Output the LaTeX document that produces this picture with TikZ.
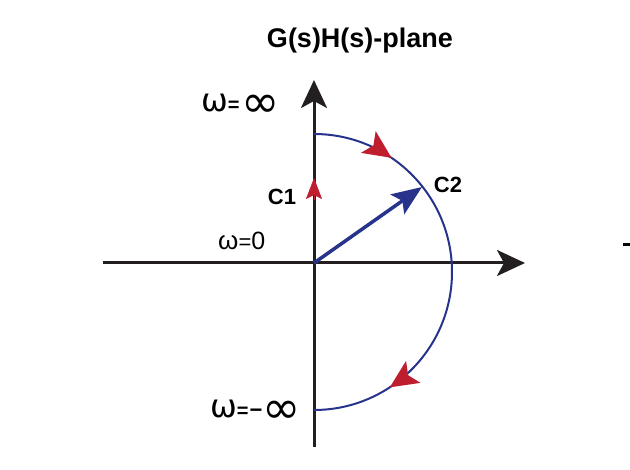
\documentclass[tikz,border=0pt]{standalone}
\usepackage{fontspec}
\setmainfont{Liberation Sans}
\newfontfamily\symfont{DejaVu Sans}
\usetikzlibrary{arrows.meta,decorations.markings}
\definecolor{arcblue}{RGB}{40,52,140}
\definecolor{tipred}{RGB}{190,30,45}
\definecolor{axisblack}{RGB}{35,31,32}
\begin{document}
\begin{tikzpicture}[x=1pt,y=-1pt,
  axis/.style={line width=3pt, draw=axisblack, -{Stealth[length=28pt,width=26pt,inset=7pt,fill=axisblack]}},
  curve/.style={draw=arcblue, line width=2pt},
  arctip/.style={tipred},
  redtip/.style={tipred},
  lbl/.style={inner sep=0pt, text=black},
  bold/.style={lbl, font=\bfseries\fontsize{22}{26}\selectfont}]
\clip (0,0) rectangle (630,470);
\fill[white] (0,0) rectangle (630,470);
% coordinates
\coordinate (O) at (314,263);
\coordinate (xl) at (103,263);
\coordinate (xr) at (525,263);
\coordinate (yb) at (314,447);
\coordinate (yt) at (314,80);
\coordinate (arctop) at (314,134);
\coordinate (c1base) at (314,200);
\coordinate (c1tip) at (314,178);
\coordinate (c2tip) at (422,187);
\coordinate (dashL) at (623,243.5);
\coordinate (dashR) at (631,246.5);
% axes
\draw[axis] (xl) -- (xr);
\draw[axis] (yb) -- (yt);
% semicircle with red arrowheads
\draw[curve, postaction={decorate}, decoration={markings,
   mark=at position 0.19 with {\arrow[arctip]{Stealth[length=28pt,width=26pt,inset=6pt]}},
   mark=at position 0.815 with {\arrow[arctip]{Stealth[length=28pt,width=26pt,inset=6pt]}}}]
  (arctop) arc[start angle=-90, end angle=90, radius=138];
% C1 arrowhead
\draw[redtip, line width=0.5pt, -{Stealth[length=21pt,width=16pt,inset=4pt]}] (c1base) -- (c1tip);
% C2 vector
\draw[arcblue, line width=3.5pt, -{Stealth[length=30pt,width=24pt,inset=6pt]}] (O) -- (c2tip);
% labels
\node[lbl, font=\bfseries\fontsize{27}{32}\selectfont] (title) at (360,41) {G(s)H(s)-plane};
\node[bold] (c1) at (282,197) {C1};
\node[bold] (c2) at (448,185) {C2};
\node[lbl, anchor=base west] (winf) at (201,112) {{\symfont\fontsize{32}{34}\selectfont ω}{\bfseries\fontsize{20}{22}\selectfont =}\hspace{2pt}\raisebox{-6pt}{\symfont\fontsize{46}{48}\selectfont ∞}};
\node[lbl, anchor=base west] (wzero) at (218,250) {\fontsize{26}{28}\selectfont ω\fontsize{22}{24}\selectfont=\fontsize{25}{28}\selectfont 0};
\node[lbl, anchor=base west] (wminf) at (210,418) {{\symfont\fontsize{32}{34}\selectfont ω}{\bfseries\fontsize{20}{22}\selectfont =}\hspace{1pt}{\bfseries\fontsize{22}{24}\selectfont −}\raisebox{-6pt}{\symfont\fontsize{46}{48}\selectfont ∞}};
\fill[black] (dashL) rectangle (dashR);
\end{tikzpicture}
\end{document}
